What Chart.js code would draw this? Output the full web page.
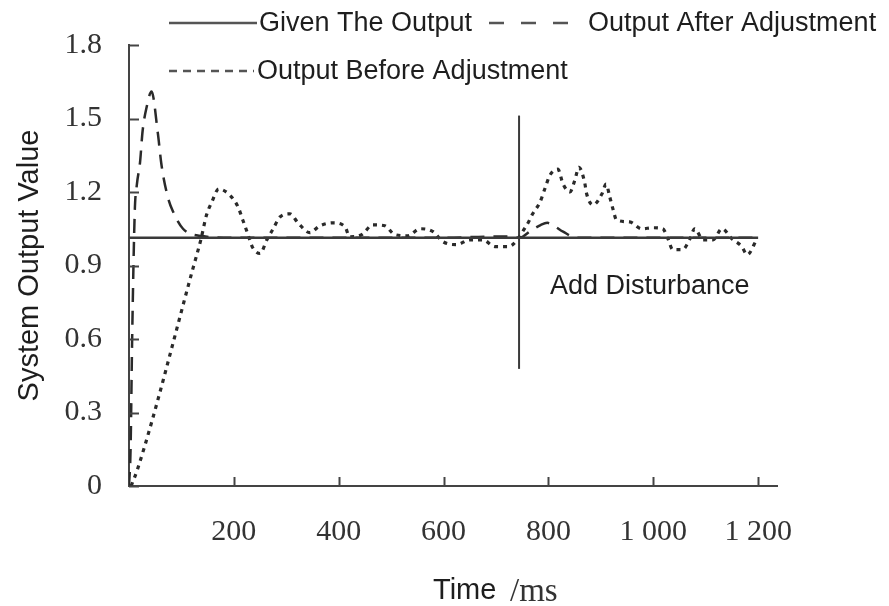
<!DOCTYPE html>
<html>
<head>
<meta charset="utf-8">
<script src="https://cdn.jsdelivr.net/npm/chart.js@4.4.1/dist/chart.umd.min.js"></script>
<style>
  html, body { margin: 0; padding: 0; background: #fff; }
  #wrap { width: 889px; height: 606px; }
</style>
</head>
<body>
<div id="wrap"><canvas id="c" width="889" height="606"></canvas></div>
<script>
// tiempos (ms) y valores
const givenT = [0, 1200];
const givenV = [1.013, 1.013];

const afterT = [0, 3, 6, 11, 15, 21, 26, 34, 43, 55, 62, 74, 84, 103, 140, 200, 400, 600, 694, 727, 745, 765, 785, 798, 812, 828, 855, 950, 1050, 1150, 1200];
const afterV = [0, 0.15, 0.6, 1.12, 1.23, 1.32, 1.45, 1.55, 1.61, 1.44, 1.31, 1.18, 1.12, 1.05, 1.02, 1.013, 1.013, 1.013, 1.018, 1.018, 1.013, 1.04, 1.065, 1.074, 1.06, 1.038, 1.013, 1.013, 1.013, 1.013, 1.013];

const beforeT = [4, 17, 122, 137, 148, 158, 171, 192, 208, 217, 227, 235, 250, 263, 275, 288, 307, 322, 345, 364, 389, 412, 421, 444, 465, 488, 507, 532, 555, 580, 599, 625, 650, 675, 698, 723, 759, 770, 784, 793, 803, 818, 828, 841, 851, 858, 869, 873, 885, 902, 910, 917, 923, 930, 955, 978, 999, 1018, 1028, 1037, 1056, 1070, 1079, 1095, 1114, 1131, 1150, 1169, 1179, 1198];
const beforeV = [0.0, 0.073, 0.888, 1.005, 1.107, 1.159, 1.212, 1.188, 1.139, 1.086, 1.026, 0.977, 0.949, 1.005, 1.05, 1.098, 1.111, 1.075, 1.034, 1.062, 1.074, 1.058, 1.017, 1.026, 1.066, 1.062, 1.026, 1.021, 1.05, 1.038, 0.997, 0.985, 1.005, 1.005, 0.977, 0.977, 1.066, 1.111, 1.159, 1.212, 1.269, 1.293, 1.232, 1.2, 1.253, 1.301, 1.24, 1.192, 1.147, 1.192, 1.232, 1.18, 1.131, 1.086, 1.078, 1.05, 1.054, 1.05, 1.009, 0.965, 0.965, 1.009, 1.05, 1.005, 1.005, 1.05, 1.009, 0.977, 0.944, 1.009];

// línea de perturbación
const disturbT = [744, 744];
const disturbV = [0.478, 1.512];

const seriesNames = ['Given The Output', 'Output After Adjustment', 'Output Before Adjustment'];
const noteText = 'Add Disturbance';
const noteAt = [803, 0.815];

const xTicks = [200, 400, 600, 800, 1000, 1200];
const xTickLabels = ['200', '400', '600', '800', '1 000', '1 200'];
const yTicks = [0, 0.3, 0.6, 0.9, 1.2, 1.5, 1.8];
const yTickLabels = ['0', '0.3', '0.6', '0.9', '1.2', '1.5', '1.8'];

const INK = '#2a2a2a';
const SANS = '"Liberation Sans", Arial, sans-serif';
const SERIF = '"Liberation Serif", "Times New Roman", serif';

const toPts = (t, v) => t.map((x, i) => ({ x: x, y: v[i] }));

// marcas de escala hacia dentro, leyenda y textos
const extras = {
  id: 'extras',
  afterDraw(chart) {
    const ctx = chart.ctx;
    const xs = chart.scales.x, ys = chart.scales.y;
    const area = chart.chartArea;
    ctx.save();
    ctx.strokeStyle = '#444';
    ctx.lineWidth = 2;
    ctx.setLineDash([]);
    xTicks.forEach(v => {
      const px = Math.round(xs.getPixelForValue(v)) + 0.5;
      ctx.beginPath(); ctx.moveTo(px, area.bottom); ctx.lineTo(px, area.bottom - 9); ctx.stroke();
    });
    yTicks.forEach(v => {
      const py = Math.round(ys.getPixelForValue(v)) + 0.5;
      ctx.beginPath(); ctx.moveTo(area.left, py); ctx.lineTo(area.left + 10, py); ctx.stroke();
    });

    // leyenda
    const items = [
      { ds: 0, x: 169, y: 23, w: 88, dash: [], gap: 2 },
      { ds: 1, x: 489, y: 23, w: 80, dash: [15, 17], gap: 19 },
      { ds: 2, x: 169, y: 71, w: 85, dash: [8, 6], gap: 3 }
    ];
    ctx.font = '27px ' + SANS;
    ctx.textBaseline = 'middle';
    ctx.textAlign = 'left';
    items.forEach(it => {
      const ds = chart.data.datasets[it.ds];
      ctx.strokeStyle = '#555';
      ctx.lineWidth = it.ds === 0 ? 2.5 : 2.5;
      ctx.setLineDash(it.dash);
      ctx.beginPath(); ctx.moveTo(it.x, it.y); ctx.lineTo(it.x + it.w, it.y); ctx.stroke();
      ctx.setLineDash([]);
      ctx.fillStyle = '#1e1e1e';
      ctx.fillText(ds.label, it.x + it.w + it.gap, it.y + 1);
    });

    // nota de perturbación
    ctx.font = '27px ' + SANS;
    ctx.fillStyle = '#1e1e1e';
    ctx.fillText(noteText, xs.getPixelForValue(noteAt[0]), ys.getPixelForValue(noteAt[1]));

    // título del eje x
    ctx.font = '29px ' + SANS;
    ctx.fillText('Time', 433, 591);
    ctx.font = '33px ' + SERIF;
    ctx.fillStyle = '#333';
    ctx.fillText('/ms', 510, 592);
    ctx.restore();
  }
};

const lineBase = { pointRadius: 0, fill: false, borderColor: INK, borderCapStyle: 'butt' };

new Chart(document.getElementById('c'), {
  type: 'line',
  data: {
    datasets: [
      Object.assign({}, lineBase, { label: seriesNames[0], data: toPts(givenT, givenV), borderWidth: 2.5, borderColor: '#3a3a3a' }),
      Object.assign({}, lineBase, { label: seriesNames[1], data: toPts(afterT, afterV), borderWidth: 2.5, borderDash: [14, 9], cubicInterpolationMode: 'monotone' }),
      Object.assign({}, lineBase, { label: seriesNames[2], data: toPts(beforeT, beforeV), borderWidth: 3.2, borderDash: [4, 5], cubicInterpolationMode: 'monotone' }),
      Object.assign({}, lineBase, { label: 'disturbance', data: toPts(disturbT, disturbV), borderWidth: 2, borderColor: '#3a3a3a', tension: 0 })
    ]
  },
  options: {
    responsive: false,
    animation: false,
    events: [],
    layout: { padding: { left: 0, top: 42, right: 112, bottom: 0 } },
    plugins: { legend: { display: false }, tooltip: { enabled: false } },
    scales: {
      x: {
        type: 'linear',
        min: 0,
        max: 1236,
        afterBuildTicks: s => { s.ticks = xTicks.map(v => ({ value: v })); },
        afterFit: s => { s.height = 120; },
        grid: { drawOnChartArea: false, drawTicks: false },
        border: { display: true, color: '#444', width: 2 },
        ticks: {
          padding: 28,
          color: '#333',
          font: { family: SERIF, size: 30 },
          maxRotation: 0,
          autoSkip: false,
          callback: (v, i) => xTickLabels[i]
        }
      },
      y: {
        type: 'linear',
        min: 0,
        max: 1.8,
        afterBuildTicks: s => { s.ticks = yTicks.map(v => ({ value: v })); },
        afterFit: s => { s.width = 129; },
        grid: { drawOnChartArea: false, drawTicks: false },
        border: { display: true, color: '#444', width: 2 },
        ticks: {
          padding: 27,
          color: '#333',
          font: { family: SERIF, size: 30 },
          autoSkip: false,
          callback: (v, i) => yTickLabels[i]
        },
        title: {
          display: true,
          text: 'System Output Value',
          color: '#1e1e1e',
          font: { family: SANS, size: 29 },
          padding: { top: 13, bottom: 0 }
        }
      }
    }
  },
  plugins: [extras]
});
</script>
</body>
</html>
